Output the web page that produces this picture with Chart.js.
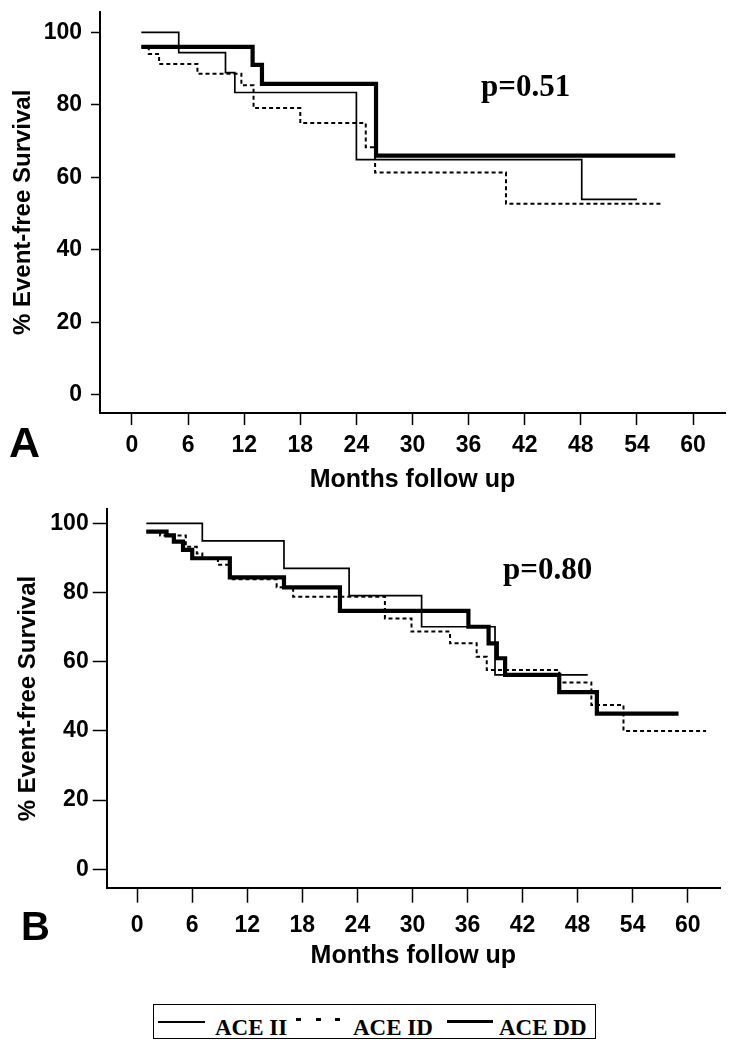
<!DOCTYPE html>
<html><head><meta charset="utf-8">
<script src="https://cdn.jsdelivr.net/npm/chart.js@4.4.1/dist/chart.umd.min.js"></script>
<style>
html,body{margin:0;padding:0;background:#fff}
body{width:734px;height:1050px;position:relative;overflow:hidden;font-family:"Liberation Sans",Arial,sans-serif}
.wrap{position:absolute;left:0;width:734px}
#wa{top:0;height:500px}
#wb{top:490px;height:490px}
.lbl{position:absolute;font-weight:bold;line-height:1;color:#000;white-space:nowrap}
.sans{font-family:"Liberation Sans",Arial,sans-serif}
.serif{font-family:"Liberation Serif","Times New Roman",serif}
#legend{position:absolute;left:153px;top:1004px;width:443px;height:35px;border:1.5px solid #000;box-sizing:border-box}
.ln{position:absolute;background:#000}
</style></head><body>
<div id="wa" class="wrap"><canvas id="ca" width="734" height="500"></canvas></div>
<div id="wb" class="wrap"><canvas id="cb" width="734" height="490"></canvas></div>

<div class="lbl sans" style="left:9px;top:421px;font-size:43px">A</div>
<div class="lbl sans" style="left:21px;top:906px;font-size:40px">B</div>
<div class="lbl serif" style="left:481px;top:70px;font-size:31px">p=0.51</div>
<div class="lbl serif" style="left:503px;top:553px;font-size:31px">p=0.80</div>

<div id="legend"></div>
<div class="ln" style="left:158px;top:1021px;width:47px;height:1.5px"></div>
<div class="lbl serif" style="left:215px;top:1016px;font-size:23px">ACE II</div>
<div class="ln" style="left:296px;top:1018px;width:5px;height:2.5px"></div>
<div class="ln" style="left:316px;top:1018px;width:5px;height:2.5px"></div>
<div class="ln" style="left:335px;top:1018px;width:5px;height:2.5px"></div>
<div class="lbl serif" style="left:353px;top:1016px;font-size:23px">ACE ID</div>
<div class="ln" style="left:447px;top:1020px;width:46px;height:3px"></div>
<div class="lbl serif" style="left:499px;top:1016px;font-size:23px">ACE DD</div>

<script>
// ---- data ----
const seriesNames = ['ACE II', 'ACE ID', 'ACE DD'];
const monthTicks = [0, 6, 12, 18, 24, 30, 36, 42, 48, 54, 60];
const survTicks = [0, 20, 40, 60, 80, 100];

// Panel A
const aIIMonths = [1, 5.0, 10.0, 11.0, 24.0, 48.1, 54.0];
const aIISurv   = [100, 94.4, 88.9, 83.4, 64.9, 53.9, 53.9];
const aIDMonths = [1, 1.8, 2.9, 7.0, 11.7, 13.0, 18.0, 25.0, 26.0, 40.0, 56.8];
const aIDSurv   = [96.0, 94.0, 91.3, 88.6, 85.4, 79.1, 75.0, 68.3, 61.3, 52.7, 52.7];
const aDDMonths = [1, 12.9, 13.9, 26.1, 58.1];
const aDDSurv   = [96.0, 91.0, 85.8, 66.0, 66.0];

// Panel B
const bIIMonths = [1, 7.1, 16.0, 23.1, 31.0, 39.0, 49.1];
const bIISurv   = [100, 94.9, 87.0, 79.1, 70.1, 56.2, 56.2];
const bIDMonths = [1, 2.5, 5.3, 6.5, 7.1, 8.8, 10.1, 15.2, 17.0, 27.0, 29.9, 34.1, 37.0, 38.1, 46.0, 49.5, 53.0, 62.0];
const bIDSurv   = [97.6, 96.5, 93.2, 91.3, 89.9, 88.0, 83.8, 81.5, 78.8, 72.5, 68.7, 65.3, 61.4, 57.6, 54.0, 47.5, 40.0, 40.0];
const bDDMonths = [1, 3.2, 4.0, 5.0, 6.0, 10.1, 16.0, 22.1, 36.1, 38.3, 39.2, 40.1, 46.0, 50.1, 59.0];
const bDDSurv   = [97.6, 96.5, 94.7, 92.3, 89.9, 84.4, 81.5, 74.7, 70.1, 65.3, 61.0, 56.2, 51.2, 45.0, 45.0];

// ---- drawing ----
function pts(xs, ys) { return xs.map((x, i) => ({x: x, y: ys[i]})); }

const styles = [
  {borderWidth: 1.7, borderDash: [], order: 1},
  {borderWidth: 2, borderDash: [4, 3], order: 2},
  {borderWidth: 4.2, borderDash: [], order: 0}
];

function build(id, series, g) {
  const datasets = series.map((s, i) => ({
    label: seriesNames[i],
    data: pts(s[0], s[1]),
    borderColor: '#000',
    backgroundColor: '#000',
    borderWidth: styles[i].borderWidth,
    borderDash: styles[i].borderDash,
    borderCapStyle: 'butt',
    borderJoinStyle: 'miter',
    order: styles[i].order,
    stepped: 'before',
    pointRadius: 0,
    fill: false
  }));
  const tickFont = {family: '"Liberation Sans", Arial, sans-serif', size: 23, weight: 'bold'};
  const xTitleFont = {family: '"Liberation Sans", Arial, sans-serif', size: 25, weight: 'bold'};
  const yTitleFont = {family: '"Liberation Sans", Arial, sans-serif', size: 24, weight: 'bold'};
  return new Chart(document.getElementById(id), {
    type: 'line',
    data: {datasets: datasets},
    options: {
      responsive: false,
      animation: false,
      devicePixelRatio: 1,
      layout: {padding: {left: 0, right: g.padRight, top: g.padTop, bottom: 0}},
      plugins: {legend: {display: false}, tooltip: {enabled: false}},
      scales: {
        x: {
          type: 'linear', min: g.xMin, max: g.xMax,
          afterBuildTicks: s => { s.ticks = monthTicks.map(v => ({value: v})); },
          afterFit: s => { s.height = g.xHeight; s.paddingLeft = 0; s.paddingRight = 0; },
          grid: {drawOnChartArea: false, drawTicks: true, tickLength: g.xTickLen, tickWidth: 1.5, tickColor: '#000'},
          border: {display: true, color: '#000', width: 2},
          ticks: {color: '#000', font: tickFont, padding: g.xTickPad, maxRotation: 0, autoSkip: false},
          title: {display: true, text: 'Months follow up', color: '#000', font: xTitleFont, padding: {top: 0, bottom: g.xTitlePad}}
        },
        y: {
          type: 'linear', min: g.yMin, max: g.yMax,
          afterBuildTicks: s => { s.ticks = survTicks.map(v => ({value: v})); },
          afterFit: s => { s.width = g.yWidth; s.paddingTop = 0; s.paddingBottom = 0; },
          grid: {drawOnChartArea: false, drawTicks: true, tickLength: g.yTickLen, tickWidth: 1.5, tickColor: '#000'},
          border: {display: true, color: '#000', width: 2},
          ticks: {color: '#000', font: tickFont, padding: g.yTickPad, autoSkip: false},
          title: {display: true, text: '% Event-free Survival', color: '#000', font: yTitleFont, padding: {top: g.yTitlePad, bottom: 0}}
        }
      }
    }
  });
}

build('ca', [[aIIMonths, aIISurv], [aIDMonths, aIDSurv], [aDDMonths, aDDSurv]], {
  xMin: -3.42, xMax: 63.42, yMin: -5.05, yMax: 105.7,
  padRight: 9, padTop: 11.7, xHeight: 87, yWidth: 100,
  xTickLen: 12, xTickPad: 7, yTickLen: 9, yTickPad: 9,
  xTitlePad: 5, yTitlePad: 9
});
build('cb', [[bIIMonths, bIISurv], [bIDMonths, bIDSurv], [bDDMonths, bDDSurv]], {
  xMin: -3.32, xMax: 63.52, yMin: -5.32, yMax: 104.05,
  padRight: 14, padTop: 19.3, xHeight: 92.3, yWidth: 106.7,
  xTickLen: 15, xTickPad: 9, yTickLen: 14, yTickPad: 4,
  xTitlePad: 9, yTitlePad: 14
});
</script>
</body></html>
